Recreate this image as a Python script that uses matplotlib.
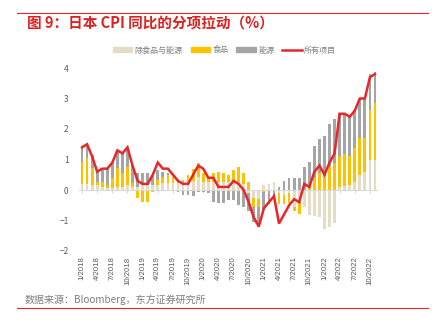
import matplotlib
matplotlib.use("Agg")
import matplotlib.pyplot as plt
from matplotlib.lines import Line2D
from matplotlib.patches import Patch
import numpy as np

plt.rcParams['font.family'] = ['Noto Sans CJK SC', 'DejaVu Sans']

# ---- data (Jan 2018 .. Nov 2022) ----
months = [f"{m}/{y}" for y in range(2018, 2023) for m in range(1, 13)][:59]
core = [0.20, 0.20, 0.16, 0.16, 0.11, 0.05, 0.05, 0.11, 0.11, 0.16, 0.11, 0.10,
        0.15, 0.15, 0.15, 0.16, 0.22, 0.22, 0.22, 0.22, 0.22, 0.20, 0.30, 0.44,
        0.27, 0.25, 0.25, 0.25, 0.25, 0.25, 0.25, 0.25, 0.20, -0.10, -0.25, -0.30,
        0.15, 0.20, 0.25, -0.10, -0.15, -0.10, -0.55, -0.40, -0.55, -0.82, -0.84, -0.87,
        -1.28, -1.20, -1.09, 0.10, 0.13, 0.16, 0.27, 0.49, 0.60, 0.98, 1.00]
food = [0.73, 0.84, 0.55, 0.11, 0.16, 0.11, 0.33, 0.60, 0.44, 0.61, 0.11, -0.27,
        -0.38, -0.38, -0.07, 0.17, 0.22, 0.27, 0.22, 0.15, 0.10, 0.29, 0.40, 0.43,
        0.28, 0.13, 0.30, 0.35, 0.32, 0.25, 0.40, 0.52, 0.35, 0.25, -0.30, -0.25,
        -0.05, 0.00, 0.00, -0.35, -0.30, -0.33, -0.15, -0.38, 0.00, 0.11, 0.38, 0.55,
        0.49, 0.77, 0.87, 1.01, 1.05, 0.95, 1.10, 1.23, 1.09, 1.64, 1.84]
energy = [0.49, 0.44, 0.44, 0.33, 0.38, 0.55, 0.49, 0.60, 0.71, 0.60, 0.60, 0.45,
          0.40, 0.40, 0.35, 0.33, 0.16, 0.06, 0.00, -0.05, -0.16, -0.16, -0.20, -0.05,
          -0.05, -0.10, -0.38, -0.44, -0.44, -0.33, -0.33, -0.50, -0.55, -0.60, -0.50, -0.60,
          -0.60, -0.45, -0.30, 0.10, 0.30, 0.38, 0.38, 0.38, 0.77, 0.82, 1.06, 1.11,
          1.28, 1.38, 1.46, 1.40, 1.28, 1.29, 1.25, 1.25, 1.31, 1.18, 1.04]
total = [1.4, 1.5, 1.1, 0.6, 0.7, 0.7, 0.9, 1.3, 1.2, 1.4, 0.8, 0.3,
         0.2, 0.2, 0.5, 0.9, 0.7, 0.7, 0.5, 0.3, 0.2, 0.2, 0.5, 0.8,
         0.7, 0.4, 0.4, 0.1, 0.1, 0.1, 0.3, 0.2, 0.0, -0.4, -0.9, -1.2,
         -0.6, -0.4, -0.2, -1.1, -0.8, -0.5, -0.3, -0.4, 0.2, 0.1, 0.6, 0.8,
         0.5, 0.9, 1.2, 2.5, 2.5, 2.4, 2.6, 3.0, 3.0, 3.7, 3.8]
series_names = ["除食品与能源", "食品", "能源"]
line_name = "所有项目"
title = "图 9：日本 CPI 同比的分项拉动（%）"
source = "数据来源：Bloomberg，东方证券研究所"

colors = ["#E5DCC5", "#FFC000", "#A5A5A5"]
red = "#E8262A"

W, H = 435, 329
fig = plt.figure(figsize=(W / 100, H / 100), dpi=100)
ax = fig.add_axes([79.5 / W, 1 - 251 / H, (377.5 - 79.5) / W, (251 - 68) / H])

x = np.arange(len(months))
pos_base = np.zeros(len(x))
neg_base = np.zeros(len(x))
for vals, c, name in zip([core, food, energy], colors, series_names):
    v = np.array(vals)
    p = np.where(v > 0, v, 0)
    n = np.where(v < 0, v, 0)
    ax.bar(x, p, bottom=pos_base, width=0.55, color=c, linewidth=0, zorder=2)
    ax.bar(x, n, bottom=neg_base, width=0.55, color=c, linewidth=0, zorder=2)
    pos_base += p
    neg_base += n
ax.plot(x, total, color=red, lw=1.8, zorder=3, solid_joinstyle='miter')

ax.set_ylim(-2, 4)
ax.set_xlim(-0.5, len(x) - 0.5)
ax.set_yticks(range(-2, 5))
ax.tick_params(axis='y', length=0, labelsize=6, labelcolor="#595959", pad=8)
for s in ['top', 'right', 'left']:
    ax.spines[s].set_visible(False)
ax.spines['bottom'].set_position(('data', 0))
ax.spines['bottom'].set_color("#D9D9D9")
ax.spines['bottom'].set_linewidth(0.8)
ax.set_xticks(x[::3])
ax.tick_params(axis='x', length=2, color="#D9D9D9", labelbottom=False, direction='out')

sec = ax.secondary_xaxis('bottom')
sec.set_xticks(x[::3], [months[i] for i in x[::3]], rotation=90,
               family=['Liberation Sans', 'DejaVu Sans'])
sec.tick_params(length=0, labelsize=5.6, labelcolor="#595959", pad=4)
sec.spines['bottom'].set_visible(False)

handles = [Patch(color=c, label=n) for c, n in zip(colors, series_names)]
handles.append(Line2D([0], [0], color=red, lw=1.8, label=line_name))
fig.legend(handles=handles, loc='center', bbox_to_anchor=(0.516, 1 - 50 / H), ncol=4,
           frameon=False, fontsize=5.8, labelcolor="#7F7F7F", handlelength=2.4,
           handleheight=0.5, handletextpad=0.3, columnspacing=1.0)

fig.add_artist(Line2D([17 / W, 428 / W], [1 - 13 / H, 1 - 13 / H], color=red, lw=0.8))
fig.add_artist(Line2D([17 / W, 428 / W], [1 - 308 / H, 1 - 308 / H], color=red, lw=0.8))
fig.text(27 / W, 1 - 24 / H, title, color="#E02020", fontsize=10.5, fontweight='bold',
         va='center', ha='left')
fig.text(25 / W, 1 - 300 / H, source, color="#7F7F7F", fontsize=7.2, va='center', ha='left')

fig.savefig("out.png", dpi=100)
